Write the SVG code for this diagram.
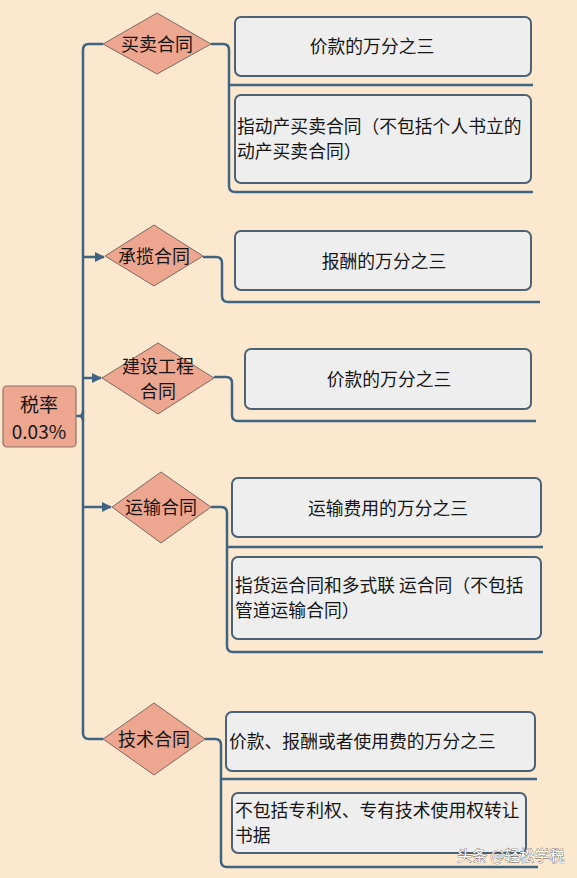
<svg xmlns="http://www.w3.org/2000/svg" width="577" height="878" viewBox="0 0 577 878">
<defs>
<marker id="arr" viewBox="0 0 10 10" refX="9" refY="5" markerWidth="4" markerHeight="4" orient="auto" markerUnits="strokeWidth">
<path d="M0,0 L10,5 L0,10 z" fill="#3f6482"/>
</marker>
<style>
.bg{fill:#FCE8CF}
.con{fill:none;stroke:#3f6482;stroke-width:2.5;stroke-linejoin:round}
.dia{fill:#EDA690;stroke:#7d6b63;stroke-width:1}
.box{fill:#EEEEEF;stroke:#4c6174;stroke-width:2}
.root{fill:#EDA690;stroke:#8a7468;stroke-width:1.2}
text{font-family:"Microsoft YaHei","Noto Sans CJK SC","Noto Sans",sans-serif;fill:#151515}
.t{font-size:17.8px}
.d{font-size:18px}
.r{font-size:19px}
.c{text-anchor:middle}
.wm{font-size:15px;fill:#ffffff;stroke:#555;stroke-width:0.7;paint-order:stroke}
</style>
</defs>
<rect class="bg" x="0" y="0" width="577" height="878"/>
<g id="connectors">
<path class="con" d="M103,44 L89,44 Q83,44 83,50 L83,733 Q83,739 89,739 L103,739"/>
<path class="con" d="M76,416 L79,416 Q83,416 83,411 M79,416 Q83,416 83,421"/>
<path class="con" d="M83,257 L104,257" marker-end="url(#arr)"/>
<path class="con" d="M83,378 L101,378" marker-end="url(#arr)"/>
<path class="con" d="M83,507 L111,507" marker-end="url(#arr)"/>
<path class="con" d="M211,44 L223,44 Q229,44 229,50 L229,186 Q229,192 235,192 L533,192 M229,85 L533,85"/>
<path class="con" d="M203,257 L216,257 Q222,257 222,263 L222,296 Q222,302 228,302 L540,302"/>
<path class="con" d="M214,377 L226,377 Q232,377 232,383 L232,415 Q232,421 238,421 L536,421"/>
<path class="con" d="M211,507 L221,507 Q227,507 227,513 L227,646 Q227,652 233,652 L543,652 M227,547 L543,547"/>
<path class="con" d="M205,739 L215,739 Q221,739 221,745 L221,861 Q221,867 227,867 L538,867 M221,779 L537,779"/>
</g>
<g id="root">
<rect class="root" x="3" y="386" width="73" height="61" rx="4"/>
<text class="r c" x="39"><tspan x="39" y="412">税率</tspan><tspan x="39" y="439">0.03%</tspan></text>
</g>
<g id="d1">
<polygon class="dia" points="103,44 157,13 211,44 157,74"/>
<text class="d c" x="157" y="51">买卖合同</text>
</g>
<g id="d2">
<polygon class="dia" points="105,256 154,225 203,256 154,286"/>
<text class="d c" x="154" y="263">承揽合同</text>
</g>
<g id="d3">
<polygon class="dia" points="102,378 158,343 214,378 158,414"/>
<text class="d c" x="158"><tspan x="158" y="373">建设工程</tspan><tspan x="158" y="398">合同</tspan></text>
</g>
<g id="d4">
<polygon class="dia" points="112,507 161,472 211,507 161,543"/>
<text class="d c" x="161" y="514">运输合同</text>
</g>
<g id="d5">
<polygon class="dia" points="103,739 154,703 205,739 154,775"/>
<text class="d c" x="154" y="746">技术合同</text>
</g>
<g id="b1">
<rect class="box" x="235" y="17" width="296" height="59" rx="6"/>
<text class="t c" x="372" y="53">价款的万分之三</text>
</g>
<g id="b2">
<rect class="box" x="235" y="95" width="296" height="88" rx="6"/>
<text class="t" x="237"><tspan x="237" y="133">指动产买卖合同（不包括个人书立的</tspan><tspan x="237" y="158">动产买卖合同）</tspan></text>
</g>
<g id="b3">
<rect class="box" x="235" y="231" width="296" height="59" rx="6"/>
<text class="t c" x="384" y="268">报酬的万分之三</text>
</g>
<g id="b4">
<rect class="box" x="245" y="349" width="286" height="60" rx="6"/>
<text class="t c" x="389" y="386">价款的万分之三</text>
</g>
<g id="b5">
<rect class="box" x="232" y="478" width="309" height="59" rx="6"/>
<text class="t c" x="388" y="515">运输费用的万分之三</text>
</g>
<g id="b6">
<rect class="box" x="232" y="557" width="309" height="82" rx="6"/>
<text class="t" x="235"><tspan x="235" y="592">指货运合同和多式联 运合同（不包括</tspan><tspan x="235" y="617">管道运输合同）</tspan></text>
</g>
<g id="b7">
<rect class="box" x="226" y="712" width="309" height="59" rx="6"/>
<text class="t" x="229" y="748">价款、报酬或者使用费的万分之三</text>
</g>
<g id="b8">
<rect class="box" x="232" y="793" width="294" height="60" rx="6"/>
<text class="t" x="235"><tspan x="235" y="817">不包括专利权、专有技术使用权转让</tspan><tspan x="235" y="842">书据</tspan></text>
</g>
<text class="wm" x="457" y="861">头条 @轻松学税</text>
</svg>
